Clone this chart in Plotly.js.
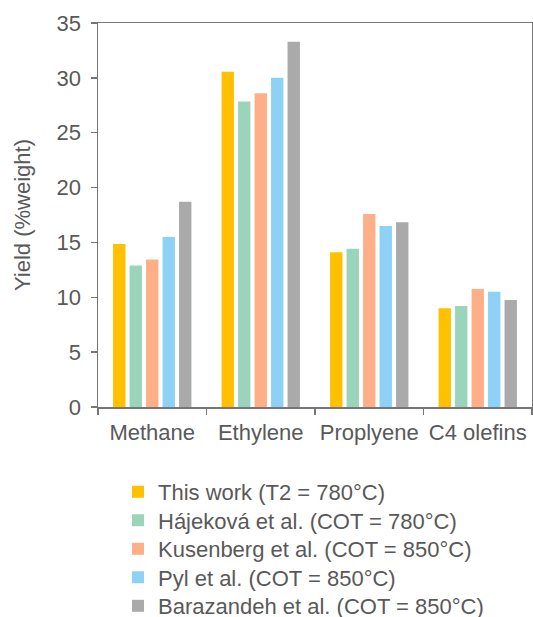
<!DOCTYPE html>
<html><head><meta charset="utf-8">
<script src="https://cdn.plot.ly/plotly-3.0.1.min.js"></script>
<style>html,body{margin:0;padding:0;background:#fff;}#chart{width:533px;height:617px;}</style>
</head><body><div id="chart"></div>
<script>
const categories = ["Methane", "Ethylene", "Proplyene", "C4 olefins"];
const seriesNames = [
  "This work (T2 = 780°C)",
  "Hájeková et al. (COT = 780°C)",
  "Kusenberg et al. (COT = 850°C)",
  "Pyl et al. (COT = 850°C)",
  "Barazandeh et al. (COT = 850°C)"
];
const thisWork   = [14.86, 30.55, 14.1, 9.0];
const hajekova   = [12.9, 27.85, 14.43, 9.2];
const kusenberg  = [13.45, 28.6, 17.6, 10.75];
const pyl        = [15.5, 30.0, 16.5, 10.5];
const barazandeh = [18.7, 33.3, 16.85, 9.75];
const colors = ["#FFC000", "#9AD5BB", "#FFAF87", "#8ED1F7", "#AAAAAA"];
const seriesValues = [thisWork, hajekova, kusenberg, pyl, barazandeh];

const legendIds = ["legend", "legend2", "legend3", "legend4", "legend5"];
const traces = seriesValues.map((vals, i) => ({
  type: "bar",
  name: seriesNames[i],
  x: categories,
  y: vals,
  marker: {color: colors[i]},
  legend: legendIds[i],
  hoverinfo: "x+y+name"
}));

const fontFam = "Liberation Sans, Arial, sans-serif";
const gray = "#595959";
const layout = {
  width: 533, height: 617,
  margin: {l: 98, r: 1, t: 23, b: 210, autoexpand: false},
  paper_bgcolor: "#fff", plot_bgcolor: "#fff",
  barmode: "group",
  bargap: 0.24,
  bargroupgap: 0.25,
  font: {family: fontFam, color: gray, size: 22},
  xaxis: {
    type: "category",
    showline: true, linecolor: "#767676", linewidth: 1.5, mirror: true,
    ticks: "outside", tickson: "boundaries", ticklen: 6, tickcolor: "#767676", tickwidth: 1.5,
    tickfont: {size: 22, color: gray, family: fontFam},
    tickangle: 0,
    ticklabelstandoff: 5,
    showgrid: false, zeroline: false, fixedrange: true
  },
  yaxis: {
    range: [0, 35], dtick: 5,
    showline: true, linecolor: "#767676", linewidth: 1.5, mirror: true,
    ticks: "outside", ticklen: 6, tickcolor: "#767676", tickwidth: 1.5,
    tickfont: {size: 22, color: gray, family: fontFam},
    ticklabelstandoff: 5,
    showgrid: false, zeroline: false,
    title: {text: "Yield (%weight)", font: {size: 22, color: gray, family: fontFam}, standoff: 20}
  },
  showlegend: true
};
const rowY = [492, 520.5, 549, 577.5, 606];
legendIds.forEach((id, i) => {
  layout[id] = {
    orientation: "v",
    x: (118 - 98) / 434, y: (407 - rowY[i]) / 384, xanchor: "left", yanchor: "middle",
    font: {size: 22, color: gray, family: fontFam},
    bgcolor: "rgba(0,0,0,0)",
    itemclick: false, itemdoubleclick: false
  };
});
Plotly.newPlot("chart", traces, layout, {displayModeBar: false, staticPlot: true});
</script></body></html>
